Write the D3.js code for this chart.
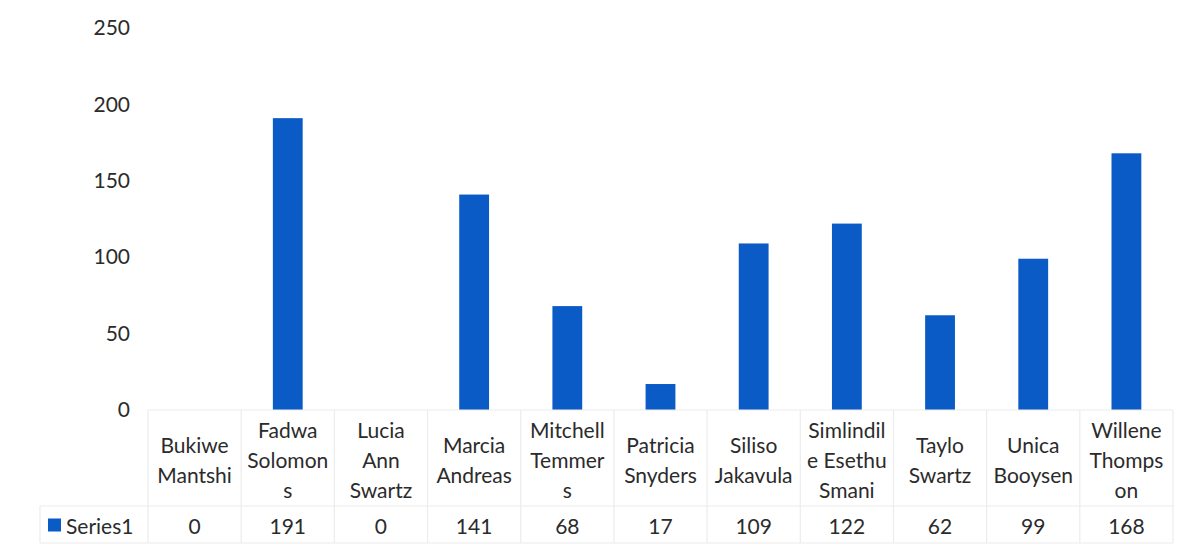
<!DOCTYPE html>
<html>
<head>
<meta charset="utf-8">
<script src="https://cdn.jsdelivr.net/npm/d3@7/dist/d3.min.js"></script>
<style>
  html, body { margin: 0; padding: 0; background: #fff; }
  svg { display: block; }
  text { font-family: Lato, 'Open Sans', sans-serif; fill: #2b2b2b; }
</style>
</head>
<body>
<div id="chart"></div>
<script>
// ---- data ----
const categories = ['Bukiwe Mantshi', 'Fadwa Solomons', 'Lucia Ann Swartz', 'Marcia Andreas',
  'Mitchell Temmers', 'Patricia Snyders', 'Siliso Jakavula', 'Simlindile Esethu Smani',
  'Taylo Swartz', 'Unica Booysen', 'Willene Thompson'];
// wrapped the way the table cells break them
const categoryLines = [
  ['Bukiwe', 'Mantshi'], ['Fadwa', 'Solomon', 's'], ['Lucia', 'Ann', 'Swartz'],
  ['Marcia', 'Andreas'], ['Mitchell', 'Temmer', 's'], ['Patricia', 'Snyders'],
  ['Siliso', 'Jakavula'], ['Simlindil', 'e Esethu', 'Smani'], ['Taylo', 'Swartz'],
  ['Unica', 'Booysen'], ['Willene', 'Thomps', 'on']];
const series1 = [0, 191, 0, 141, 68, 17, 109, 122, 62, 99, 168];
const seriesName = 'Series1';
const yTicks = [0, 50, 100, 150, 200, 250];

const W = 1202, H = 551;
const plot = { left: 148, right: 1173, top: 28, bottom: 410 };
const headerBottom = 506, tableBottom = 543, legendLeft = 40;
const barColor = '#0b5bc7';
const gridColor = '#ececec';
const fontSize = '21px';

const svg = d3.select('#chart').append('svg')
  .attr('width', W).attr('height', H);

const x = d3.scaleBand()
  .domain(categories)
  .range([plot.left, plot.right])
  .paddingInner(0)
  .paddingOuter(0);

const y = d3.scaleLinear()
  .domain([0, 250])
  .range([plot.bottom, plot.top]);

// y axis labels only (no line, no ticks)
const yAxis = svg.append('g')
  .attr('transform', `translate(${plot.left - 18},0)`)
  .call(d3.axisLeft(y).tickValues(yTicks).tickSize(0).tickPadding(0));
yAxis.select('.domain').remove();
yAxis.selectAll('text')
  .style('font-size', fontSize)
  .style('font-family', "Lato, 'Open Sans', sans-serif")
  .attr('fill', '#2b2b2b');

// bars
const bw = x.bandwidth() * 0.32;
svg.append('g').selectAll('rect')
  .data(series1)
  .join('rect')
  .attr('x', (d, i) => x(categories[i]) + x.bandwidth() / 2 - bw / 2)
  .attr('y', d => y(d))
  .attr('width', bw)
  .attr('height', d => y(0) - y(d))
  .attr('fill', barColor);

// data table
const table = svg.append('g');
const vlines = [legendLeft].concat(categories.map(c => x(c)), [plot.right]);
vlines.forEach((vx, i) => {
  table.append('line')
    .attr('x1', vx).attr('x2', vx)
    .attr('y1', i === 0 ? headerBottom : plot.bottom).attr('y2', tableBottom)
    .attr('stroke', gridColor).attr('stroke-width', 1.2);
});
[[plot.left, plot.bottom], [legendLeft, headerBottom], [legendLeft, tableBottom]].forEach(([x1, hy]) => {
  table.append('line')
    .attr('x1', x1).attr('x2', plot.right)
    .attr('y1', hy).attr('y2', hy)
    .attr('stroke', gridColor).attr('stroke-width', 1.2);
});

// category header cells
const headMid = (plot.bottom + headerBottom) / 2 + 1;
const lineH = 30;
categoryLines.forEach((lines, i) => {
  const cx = x(categories[i]) + x.bandwidth() / 2;
  const start = headMid - ((lines.length - 1) * lineH) / 2;
  lines.forEach((ln, j) => {
    table.append('text')
      .attr('x', cx).attr('y', start + j * lineH)
      .attr('text-anchor', 'middle')
      .attr('dominant-baseline', 'central')
      .style('font-size', fontSize)
      .text(ln);
  });
});

// value row
const rowMid = (headerBottom + tableBottom) / 2 + 1;
series1.forEach((v, i) => {
  table.append('text')
    .attr('x', x(categories[i]) + x.bandwidth() / 2).attr('y', rowMid)
    .attr('text-anchor', 'middle')
    .attr('dominant-baseline', 'central')
    .style('font-size', fontSize)
    .text(v);
});

// legend key in row header
table.append('rect')
  .attr('x', 48).attr('y', rowMid - 7)
  .attr('width', 13).attr('height', 13)
  .attr('fill', barColor);
table.append('text')
  .attr('x', 66).attr('y', rowMid)
  .attr('dominant-baseline', 'central')
  .style('font-size', fontSize)
  .text(seriesName);
</script>
</body>
</html>
